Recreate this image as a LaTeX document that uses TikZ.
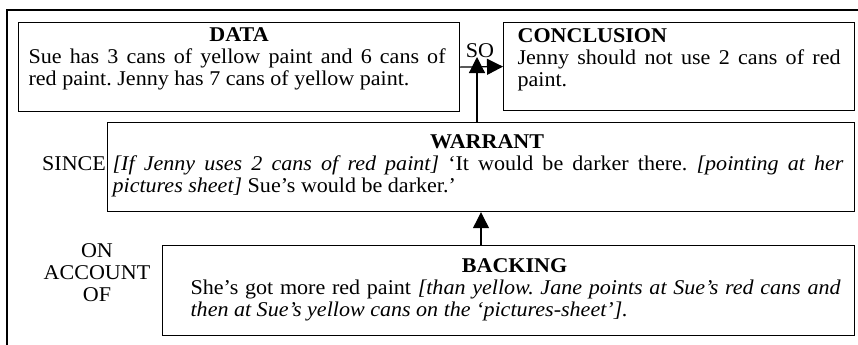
\documentclass[tikz,border=0pt]{standalone}
\usepackage{fontspec}
\setmainfont{Liberation Serif}[FakeStretch=1.05]
\usetikzlibrary{arrows.meta}
\newcommand\bodyfont{\fontsize{21bp}{22bp}\selectfont\frenchspacing\hyphenpenalty=10000\exhyphenpenalty=10000}
\tikzset{
  box/.style={draw, line width=1.2bp, inner sep=0pt, anchor=north west, font=\bodyfont, align=justify},
  arr/.style={line width=1.2bp, -{Triangle[length=16bp,width=16bp]}},
  lbl/.style={font=\bodyfont, inner sep=0pt, align=center},
  frame/.style={line width=2.4bp}
}
\begin{document}
\begin{tikzpicture}[x=1bp,y=-1bp]
\useasboundingbox (0,0) rectangle (858,344);
\clip (0,0) rectangle (858,344);
\fill[white] (0,0) rectangle (858,344);
\draw[frame] (7,400) -- (7,10) -- (900,10);

\node[box, text width=441bp, text height=19bp, text depth=70bp] (data) at (18,22)
  {\leftskip=10bp \rightskip=14bp {\centering\textbf{DATA}\par}Sue has 3 cans of yellow paint and 6 cans of\linebreak red paint. Jenny has 7 cans of yellow paint.\par};

\node[box, text width=351bp, text height=20bp, text depth=68bp] (concl) at (503,22)
  {\leftskip=14bp \rightskip=14bp \textbf{CONCLUSION}\par Jenny should not use 2 cans of red\linebreak paint.\par};

\node[box, text width=747bp, text height=26bp, text depth=63bp] (warr) at (107,122)
  {\leftskip=5bp \rightskip=11bp {\centering\hspace*{12bp}\textbf{WARRANT}\par}\textit{[If Jenny uses 2 cans of red paint]} ‘It would be darker there. \textit{[pointing at her}\linebreak \textit{pictures sheet]} Sue’s would be darker.’\par};

\node[box, text width=692bp, text height=27bp, text depth=63bp] (back) at (162,245)
  {\leftskip=28bp \rightskip=14bp {\centering\hspace*{12bp}\textbf{BACKING}\par}She’s got more red paint \textit{[than yellow. Jane points at Sue’s red cans and}\linebreak \textit{then at Sue’s yellow cans on the ‘pictures-sheet’].}\par};

\node[lbl, anchor=base] (so) at (480,57) {SO};
\node[lbl, anchor=base] (since) at (74,170) {SINCE};
\node[lbl, anchor=north] (onacc) at (97,243) {ON\\ACCOUNT\\OF};

\coordinate (sotip) at (477,57);
\coordinate (bx) at (481,0);
\draw[arr] (data.east) -- (concl.west);
\draw[arr] (warr.north -| sotip) -- (sotip);
\draw[arr] (back.north -| bx) -- (warr.south -| bx);
\end{tikzpicture}
\end{document}
